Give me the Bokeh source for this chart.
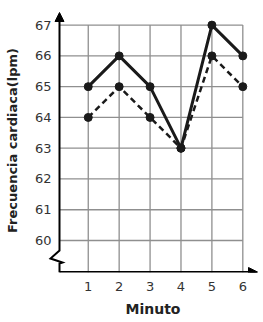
from bokeh.plotting import figure
from bokeh.models import Range1d, FixedTicker, Arrow, NormalHead
from bokeh.embed import file_html
from bokeh.resources import INLINE

minutes = [1, 2, 3, 4, 5, 6]
series_solid = [65, 66, 65, 63, 67, 66]
series_dashed = [64, 65, 64, 63, 66, 65]
y_ticks = [60, 61, 62, 63, 64, 65, 66, 67]
x_ticks = [1, 2, 3, 4, 5, 6]

W, H = 263, 322
left, right, top, bottom = 46, 4, 8, 50
x0, x1 = -0.3506, 6.54
y0, y1 = 58.96, 67.54
axis_x = 0.07  # where the drawn y axis sits

p = figure(width=W, height=H, output_backend="svg", toolbar_location=None,
           x_range=Range1d(x0, x1), y_range=Range1d(y0, y1),
           min_border_left=left, min_border_right=right,
           min_border_top=top, min_border_bottom=bottom)
p.outline_line_color = None
p.xgrid.visible = False
p.ygrid.visible = False
p.background_fill_color = "white"
p.border_fill_color = "white"

fw = W - left - right
fh = H - top - bottom
def dx(px):
    return px * (x1 - x0) / fw
def dy(px):
    return px * (y1 - y0) / fh

for ax in (p.xaxis[0], p.yaxis[0]):
    ax.axis_line_color = None
    ax.major_tick_line_color = None
    ax.minor_tick_line_color = None
    ax.major_tick_out = 0
    ax.major_tick_in = 0
    ax.major_label_text_font = "DejaVu Sans"
    ax.major_label_text_font_size = "13px"
    ax.major_label_text_color = "#333333"
    ax.axis_label_text_font = "DejaVu Sans"
    ax.axis_label_text_font_style = "bold"
    ax.axis_label_text_font_size = "14px"
    ax.axis_label_text_color = "#222222"
p.yaxis.axis_label_text_font_size = "13px"

p.xaxis.ticker = FixedTicker(ticks=x_ticks)
p.yaxis.ticker = FixedTicker(ticks=y_ticks)
p.xaxis.major_label_standoff = 9
p.yaxis.major_label_standoff = 8 - 13 + 13  # offset handled by frame
p.yaxis.major_label_standoff = -5
p.xaxis.axis_label = "Minuto"
p.yaxis.axis_label = "Frecuencia cardiaca(lpm)"
p.xaxis.axis_label_standoff = 7
p.yaxis.axis_label_standoff = 12

grid_color = "#8f8f8f"
# horizontal grid lines
p.segment(x0=[axis_x] * len(y_ticks), y0=y_ticks, x1=[max(x_ticks)] * len(y_ticks), y1=y_ticks,
          line_color=grid_color, line_width=1.3)
# vertical grid lines
p.segment(x0=x_ticks, y0=[y0] * len(x_ticks), x1=x_ticks, y1=[max(y_ticks)] * len(x_ticks),
          line_color=grid_color, line_width=1.3)

# y axis with break
ax_x = axis_x
p.line(x=[ax_x, ax_x, ax_x + dx(3), ax_x - dx(9), ax_x, ax_x],
       y=[y0, y0 + dy(9), y0 + dy(10), y0 + dy(14), y0 + dy(22), y1 - dy(6)],
       line_color="black", line_width=2, line_join="miter")
p.add_layout(Arrow(end=NormalHead(size=9, fill_color="black", line_color="black"),
                   x_start=ax_x, y_start=y1 - dy(10), x_end=ax_x, y_end=y1 - dy(4),
                   line_color="black", line_width=2))
# x axis
ax_y = y0 + dy(0.5)
p.line(x=[ax_x, x1 - dx(4)], y=[ax_y, ax_y], line_color="black", line_width=2)
p.add_layout(Arrow(end=NormalHead(size=9, fill_color="black", line_color="black"),
                   x_start=x1 - dx(10), y_start=ax_y, x_end=x1 - dx(2), y_end=ax_y,
                   line_color="black", line_width=2))

ink = "#1a1a1a"
p.line(minutes, series_dashed, line_color=ink, line_width=2.5, line_dash="6 4")
p.line(minutes, series_solid, line_color=ink, line_width=3)
p.scatter(minutes, series_dashed, size=8, fill_color=ink, line_color=ink)
p.scatter(minutes, series_solid, size=8, fill_color=ink, line_color=ink)

open("out.html", "w").write(file_html(p, INLINE))
